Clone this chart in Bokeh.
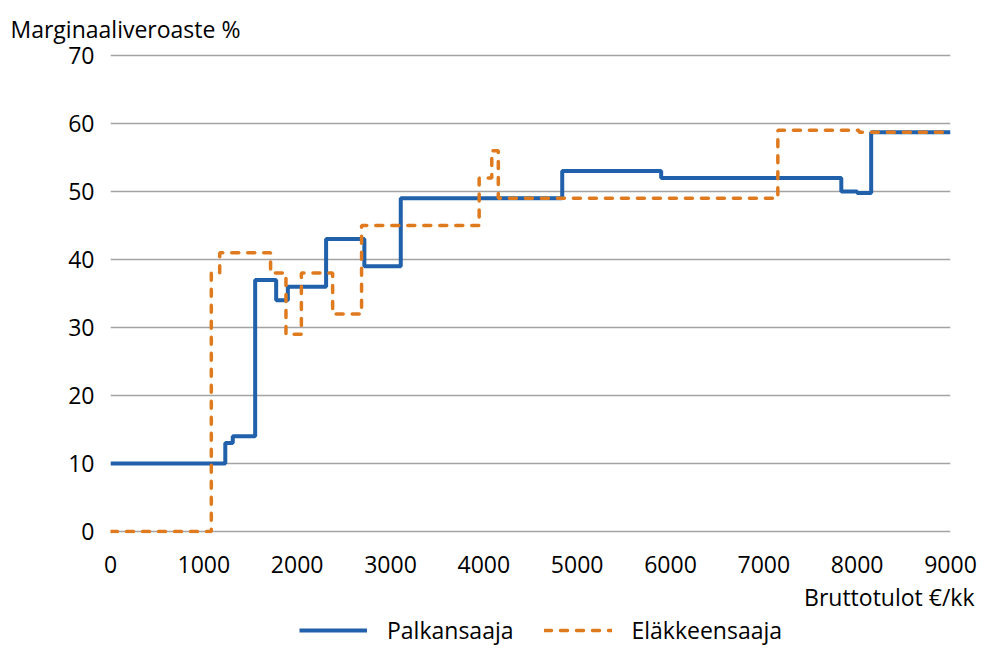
from bokeh.plotting import figure
from bokeh.models import Range1d, Legend, LegendItem, Title, FixedTicker
from bokeh.layouts import column
from bokeh.embed import file_html
from bokeh.resources import INLINE

# Data
pal_x = [0, 1230, 1310, 1550, 1775, 1900, 2310, 2720, 3110, 4840, 5900, 7830, 8000, 8150, 9000]
pal_y = [10, 13, 14, 37, 34, 36, 43, 39, 49, 53, 52, 50, 49.8, 58.7, 58.7]

ela_x = [0, 1080, 1170, 1715, 1880, 2045, 2380, 2690, 3950, 4085, 4155, 7150, 8020, 9000]
ela_y = [0, 38, 41, 38, 29, 38, 32, 45, 52, 56, 49, 59, 58.7, 58.7]

x_ticks = [0, 1000, 2000, 3000, 4000, 5000, 6000, 7000, 8000, 9000]
y_ticks = [0, 10, 20, 30, 40, 50, 60, 70]

series_names = ["Palkansaaja", "Eläkkeensaaja"]
y_title = "Marginaaliveroaste %"
x_title = "Bruttotulot €/kk"

FONT = "Open Sans"
FS = "23px"
BLUE = "#2160aa"
ORANGE = "#e07a1e"

p = figure(width=979, height=615, output_backend="svg", toolbar_location=None,
           x_range=Range1d(0, 9000), y_range=Range1d(-0.3, 70.3),
           min_border_left=110, min_border_right=29, min_border_top=53, min_border_bottom=82)
p.outline_line_color = None
p.background_fill_color = "white"
p.border_fill_color = "white"

p.xgrid.grid_line_color = None
p.ygrid.grid_line_color = "#a3a3a3"
p.ygrid.grid_line_width = 1.3

for ax in (p.xaxis[0], p.yaxis[0]):
    ax.axis_line_color = None
    ax.major_tick_line_color = None
    ax.minor_tick_line_color = None
    ax.major_label_text_font = FONT
    ax.major_label_text_font_size = FS
    ax.major_label_text_color = "black"

p.xaxis[0].ticker = FixedTicker(ticks=x_ticks)
p.yaxis[0].ticker = FixedTicker(ticks=y_ticks)
p.xaxis[0].major_label_standoff = 16
p.yaxis[0].major_label_standoff = 10

p.step(pal_x, pal_y, mode="after", line_color=BLUE, line_width=4)
p.step(ela_x, ela_y, mode="after", line_color=ORANGE, line_width=3.5,
       line_dash="7 9", line_cap="round")

t_top = Title(text=y_title, align="left", offset=-100, text_font=FONT, text_font_size=FS,
              text_font_style="normal", text_color="black", standoff=17)
p.add_layout(t_top, "above")

t_bot = Title(text=x_title, align="right", offset=-24, text_font=FONT, text_font_size=FS,
              text_font_style="normal", text_color="black", standoff=6)
p.add_layout(t_bot, "below")

# Legend in its own strip below the chart
lg = figure(width=979, height=31, output_backend="svg", toolbar_location=None,
            x_range=Range1d(0, 1), y_range=Range1d(0, 1),
            x_axis_location=None, y_axis_location=None,
            min_border_left=0, min_border_right=0, min_border_top=0, min_border_bottom=0)
lg.outline_line_color = None
lg.xgrid.grid_line_color = None
lg.ygrid.grid_line_color = None
# legend-only renderers (their points lie outside the visible range)
l1 = lg.line([-5, -4], [-5, -4], line_color=BLUE, line_width=4)
l2 = lg.line([-5, -4], [-5, -4], line_color=ORANGE, line_width=3.5, line_dash="7 9", line_cap="round")

legend = Legend(items=[LegendItem(label=series_names[0], renderers=[l1]),
                       LegendItem(label=series_names[1], renderers=[l2])],
                orientation="horizontal", location=(189, 0),
                label_text_font=FONT, label_text_font_size=FS, label_text_color="black",
                glyph_width=68, glyph_height=20, label_standoff=20, spacing=30,
                border_line_color=None, background_fill_alpha=0, padding=0, margin=0)
lg.add_layout(legend, "center")

layout = column(p, lg, spacing=0)
open("out.html", "w").write(file_html(layout, INLINE))
